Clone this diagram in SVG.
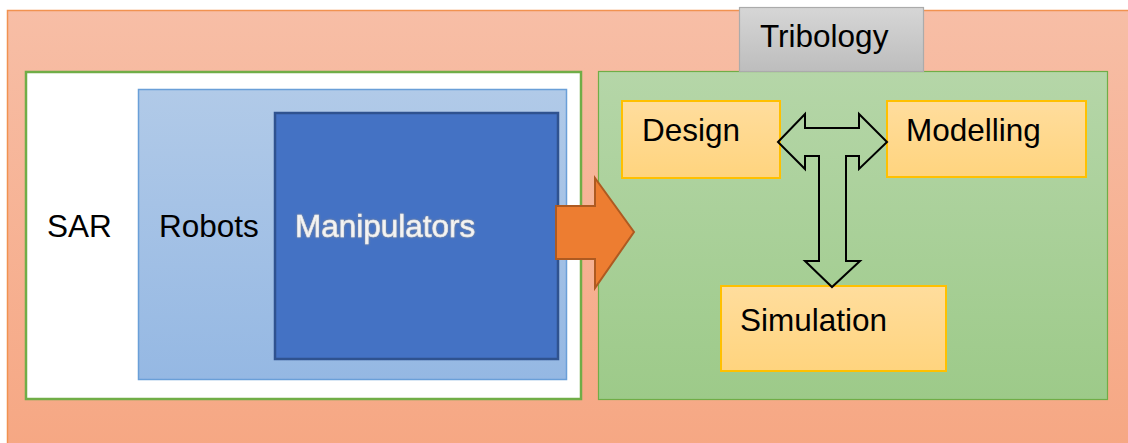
<svg xmlns="http://www.w3.org/2000/svg" width="1128" height="443" viewBox="0 0 1128 443">
  <defs>
    <linearGradient id="gSalmon" x1="0" y1="0" x2="0" y2="1">
      <stop offset="0" stop-color="#F7BEA6"/>
      <stop offset="1" stop-color="#F6A783"/>
    </linearGradient>
    <linearGradient id="gBlue" x1="0" y1="0" x2="0" y2="1">
      <stop offset="0" stop-color="#B1CAE8"/>
      <stop offset="1" stop-color="#95B8E3"/>
    </linearGradient>
    <linearGradient id="gGreen" x1="0" y1="0" x2="0" y2="1">
      <stop offset="0" stop-color="#B5D6A8"/>
      <stop offset="1" stop-color="#9DCA89"/>
    </linearGradient>
    <linearGradient id="gGrey" x1="0" y1="0" x2="0" y2="1">
      <stop offset="0" stop-color="#D6D6D6"/>
      <stop offset="1" stop-color="#BDBDBD"/>
    </linearGradient>
    <linearGradient id="gYellow" x1="0" y1="0" x2="0" y2="1">
      <stop offset="0" stop-color="#FFDD9D"/>
      <stop offset="1" stop-color="#FFD47E"/>
    </linearGradient>
    <filter id="glow" x="-10%" y="-30%" width="120%" height="160%">
      <feDropShadow dx="0" dy="0" stdDeviation="1" flood-color="#8F8F8F" flood-opacity="1"/>
    </filter>
  </defs>
  <style>
    text { font-family: "Liberation Sans", Arial, sans-serif; font-size: 31.5px; fill: #000; }
    .task { fill: url(#gYellow); stroke: #FFC000; stroke-width: 2; }
    .light { fill: #F4F4F4; stroke: #E6E6E6; stroke-width: 0.6; }
  </style>

  <rect width="1128" height="443" fill="#FFFFFF"/>

  <!-- outer field -->
  <g id="field">
    <rect x="7.5" y="10.5" width="1130" height="440" fill="url(#gSalmon)" stroke="#F19250" stroke-width="1.5"/>
  </g>

  <!-- SAR container -->
  <g id="sar">
    <rect x="26" y="72" width="555" height="327" fill="#FFFFFF" stroke="#70AD47" stroke-width="2.5"/>
    <text x="47" y="237">SAR</text>
  </g>

  <g id="robots">
    <rect x="138.5" y="89.5" width="428" height="290" fill="url(#gBlue)" stroke="#6A9FD8" stroke-width="1.5"/>
    <text x="159" y="237">Robots</text>
  </g>

  <g id="manipulators">
    <rect x="275" y="113" width="283" height="246" fill="#4472C4" stroke="#2F528F" stroke-width="2.5"/>
    <text x="295" y="237" class="light" filter="url(#glow)">Manipulators</text>
  </g>

  <!-- Tribology container -->
  <g id="tribology-area">
    <rect x="598.5" y="71.5" width="509" height="328" fill="url(#gGreen)" stroke="#70AD47" stroke-width="1.2"/>
  </g>

  <g id="tribology">
    <rect x="739.5" y="7.5" width="184" height="64" fill="url(#gGrey)" stroke="#ABABAB" stroke-width="1.2"/>
    <text x="760" y="47">Tribology</text>
  </g>

  <g id="design">
    <rect class="task" x="622" y="101" width="158" height="77"/>
    <text x="642" y="141">Design</text>
  </g>

  <g id="modelling">
    <rect class="task" x="887" y="101" width="199" height="76"/>
    <text x="906" y="141">Modelling</text>
  </g>

  <g id="simulation">
    <rect class="task" x="721" y="286" width="225" height="85"/>
    <text x="740" y="331">Simulation</text>
  </g>

  <!-- connectors -->
  <g id="connectors">
    <path d="M556 206 H595 V178 L634 232 L595 288 V259 H556 Z" fill="#ED7D31" stroke="#AE5A21" stroke-width="2" stroke-linejoin="miter"/>
    <path d="M778 142 L805 114 V128 H859 V114 L887 142 L859 169 V156 H846 V261 H860 L832 287 L805 261 H819 V156 H805 V169 Z" fill="none" stroke="#000000" stroke-width="2" stroke-linejoin="miter"/>
  </g>
</svg>
